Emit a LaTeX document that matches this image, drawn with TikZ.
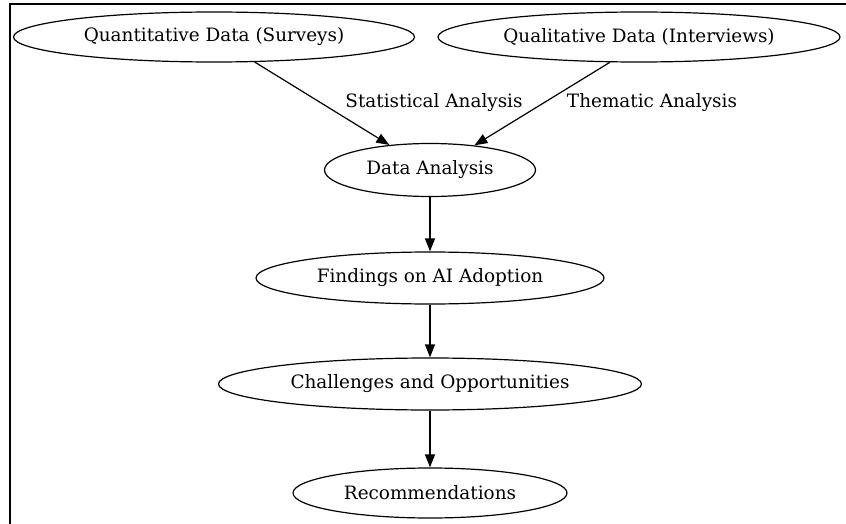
\documentclass[tikz,border=0pt]{standalone}
\usepackage{fontspec}
\setmainfont{DejaVu Serif}
\usetikzlibrary{shapes.geometric,arrows.meta}
\begin{document}
\begin{tikzpicture}[x=1pt,y=-1pt,
  stage/.style={draw,ellipse,line width=1.2pt,inner sep=0pt,font=\fontsize{18.4}{20}\selectfont},
  flow/.style={draw,line width=1.2pt,-{Triangle[length=13pt,width=10pt]}},
  elabel/.style={font=\fontsize{18.4}{20}\selectfont,anchor=center,inner sep=0pt}]
\useasboundingbox (0,0) rectangle (846,524);
% frame along the left and top edges
\draw[line width=2pt] (10,524) -- (10,4) -- (846,4);
% stages
\node[stage,minimum width=401pt,minimum height=50pt] (quant) at (214,37) {Quantitative Data (Surveys)};
\node[stage,minimum width=402pt,minimum height=50pt] (qual) at (639,37) {Qualitative Data (Interviews)};
\node[stage,minimum width=211pt,minimum height=53pt] (data) at (430,170) {Data Analysis};
\node[stage,minimum width=348pt,minimum height=52pt] (find) at (430,278) {Findings on AI Adoption};
\node[stage,minimum width=423pt,minimum height=52pt] (chal) at (430,384) {Challenges and Opportunities};
\node[stage,minimum width=274pt,minimum height=50pt] (reco) at (430,493) {Recommendations};
% edge labels
\node[elabel] (lstat) at (434,103) {Statistical Analysis};
\node[elabel] (lthem) at (652,103) {Thematic Analysis};
% connectors
\draw[flow] (quant) -- (data);
\draw[flow] (qual.-139) -- (data.29);
\draw[flow] (data) -- (find);
\draw[flow] (find) -- (chal);
\draw[flow] (chal) -- (reco);
\end{tikzpicture}
\end{document}
